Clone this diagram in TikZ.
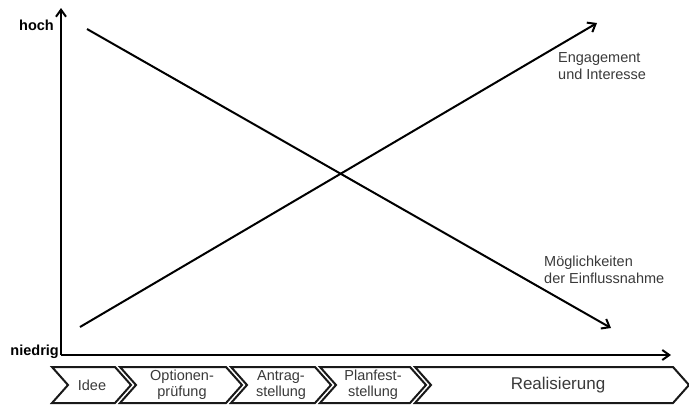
\documentclass[tikz,border=0pt]{standalone}
\usepackage{fontspec}
\setmainfont{Liberation Sans}
\usetikzlibrary{arrows.meta}
\definecolor{txt}{HTML}{3A3A3A}
\tikzset{
  axis/.style={line width=2.3pt, -{Straight Barb[length=7pt,width=10pt,line width=2pt]}},
  trend/.style={line width=2pt, -{Straight Barb[length=7pt,width=11pt,line width=2pt]}},
  lvl/.style={font=\bfseries\fontsize{14.5}{16}\selectfont, text=black, inner sep=0pt},
  curvelabel/.style={font=\fontsize{14.5}{16.5}\selectfont, text=txt, align=left, inner sep=0pt, anchor=west},
  phase/.style={line width=2pt, draw=black!90, fill=white, line join=miter},
  phaselabel/.style={font=\fontsize{14.5}{16}\selectfont, text=txt, align=center, inner sep=0pt}
}
\begin{document}
\begin{tikzpicture}[x=1pt, y=-1pt]
  \useasboundingbox (0,0) rectangle (689,405);

  % axes
  \coordinate (origin) at (61,355);
  \coordinate (ytop) at (61,8);
  \coordinate (xend) at (671,355);
  \draw[axis] (origin) -- (ytop);
  \draw[axis] (origin) -- (xend);
  \node[lvl, anchor=east] (hoch) at (54,25) {hoch};
  \node[lvl, anchor=east] (niedrig) at (59,352) {niedrig};

  % trends
  \coordinate (engA) at (80,327);
  \coordinate (engB) at (597,23);
  \coordinate (einA) at (87,29);
  \coordinate (einB) at (611,328);
  \draw[trend] (engA) -- (engB);
  \draw[trend] (einA) -- (einB);
  \node[curvelabel] (eng) at (558,66) {Engagement\\und Interesse};
  \node[curvelabel] (ein) at (544,270) {Möglichkeiten\\der Einflussnahme};

  % project phases as chevrons
  \def\ptop{367}\def\pbot{403}\def\pmid{385}\def\pd{16}
  \foreach \L/\R in {52/115, 120/226, 231/315, 320/410, 415/673}{
    \draw[phase] (\L,\ptop) -- (\R,\ptop) -- ({\R+\pd},\pmid) -- (\R,\pbot)
      -- (\L,\pbot) -- ({\L+\pd},\pmid) -- cycle;
  }
  \node[phaselabel] (idee) at (92,385) {Idee};
  \node[phaselabel] (opt) at (182,385) {Optionen-\\prüfung};
  \node[phaselabel] (antrag) at (281,385) {Antrag-\\stellung};
  \node[phaselabel] (plan) at (373,385) {Planfest-\\stellung};
  \node[phaselabel, font=\fontsize{17}{19}\selectfont] (real) at (558,385) {Realisierung};
\end{tikzpicture}
\end{document}
